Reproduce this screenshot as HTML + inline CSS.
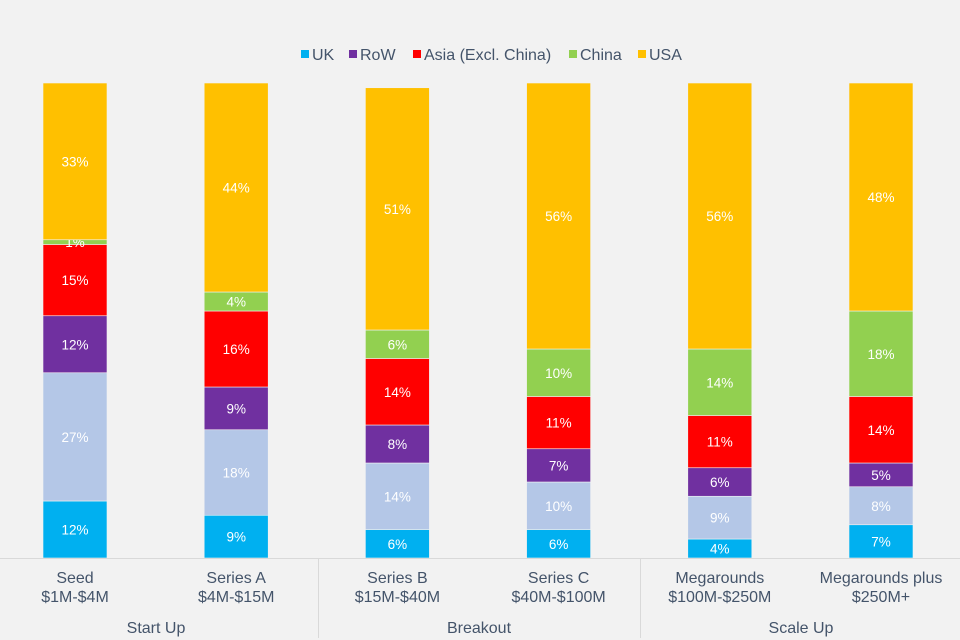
<!DOCTYPE html>
<html><head><meta charset="utf-8">
<style>
html,body{margin:0;padding:0;background:#F2F2F2;}
svg{display:block;font-family:"Liberation Sans",Arial,sans-serif;}
</style></head>
<body>
<svg id="chart" width="960" height="640" viewBox="0 0 960 640" xmlns="http://www.w3.org/2000/svg">
<rect width="960" height="640" fill="#F2F2F2"/>
</svg>
<script>
const categories = ["Seed", "Series A", "Series B", "Series C", "Megarounds", "Megarounds plus"];
const subLabels = ["$1M-$4M", "$4M-$15M", "$15M-$40M", "$40M-$100M", "$100M-$250M", "$250M+"];
const groups = ["Start Up", "Breakout", "Scale Up"];
const seriesNames = ["UK", "Other", "RoW", "Asia (Excl. China)", "China", "USA"];
const ukVals = [12, 9, 6, 6, 4, 7];
const otherVals = [27, 18, 14, 10, 9, 8];
const rowVals = [12, 9, 8, 7, 6, 5];
const asiaVals = [15, 16, 14, 11, 11, 14];
const chinaVals = [1, 4, 6, 10, 14, 18];
const usaVals = [33, 44, 51, 56, 56, 48];

const colors = ["#00B0F0", "#B4C7E7", "#7030A0", "#FF0000", "#92D050", "#FFC000"];
const series = [ukVals, otherVals, rowVals, asiaVals, chinaVals, usaVals];
const svg = document.getElementById('chart');
const NS = "http://www.w3.org/2000/svg";
const baseY = 558, plotH = 475, slotW = 960 / categories.length, barW = 64;
function yScale(v) { return baseY - v / 100 * plotH; }
function xCenter(i) { return slotW * i + slotW / 2 - 5 + (i === 0 ? 0 : 0); }
function mk(tag, attrs) { const e = document.createElementNS(NS, tag); for (const k in attrs) e.setAttribute(k, attrs[k]); svg.appendChild(e); return e; }

categories.forEach((c, i) => {
  let cum = 0;
  const cx = 75 + i * 161.2;
  series.forEach((vals, s) => {
    const v = vals[i];
    const y0 = yScale(cum), y1 = yScale(cum + v);
    const r = mk('rect', { x: cx - barW / 2, y: y1, width: barW, height: y0 - y1, fill: colors[s], stroke: "#F2F2F2", 'stroke-width': 0.6 });
    
    
    const t = mk('text', { x: cx, y: (y0 + y1) / 2 + 5, 'text-anchor': 'middle', 'font-size': 13.5, fill: '#FFFFFF' });
    t.textContent = v + '%';
    
    
    cum += v;
  });
  const l1 = mk('text', { x: cx, y: 583, 'text-anchor': 'middle', 'font-size': 16, fill: '#44546A' });
  l1.textContent = c;
  
  
  const l2 = mk('text', { x: cx, y: 602, 'text-anchor': 'middle', 'font-size': 16, fill: '#44546A' });
  l2.textContent = subLabels[i];
  
  
});

const axis = mk('line', { x1: 0, y1: baseY + 0.5, x2: 960, y2: baseY + 0.5, stroke: '#D9D9D9', 'stroke-width': 1 });


[318, 640].forEach(x => {
  const s = mk('line', { x1: x + 0.5, y1: baseY, x2: x + 0.5, y2: 638, stroke: '#D9D9D9', 'stroke-width': 1 });
  
  
});
const gx = [156, 479, 801];
groups.forEach((g, i) => {
  const t = mk('text', { x: gx[i], y: 633, 'text-anchor': 'middle', 'font-size': 16, fill: '#44546A' });
  t.textContent = g;
  
  
});

// legend
const legendItems = [["UK", 0, 301], ["RoW", 2, 349], ["Asia (Excl. China)", 3, 413], ["China", 4, 569], ["USA", 5, 638]];
legendItems.forEach(([name, ci, x]) => {
  const r = mk('rect', { x: x, y: 50, width: 8, height: 8, fill: colors[ci] });
  
  
  const t = mk('text', { x: x + 11, y: 60, 'font-size': 16, fill: '#44546A' });
  t.textContent = name;
  
  
});
</script>
</body></html>
